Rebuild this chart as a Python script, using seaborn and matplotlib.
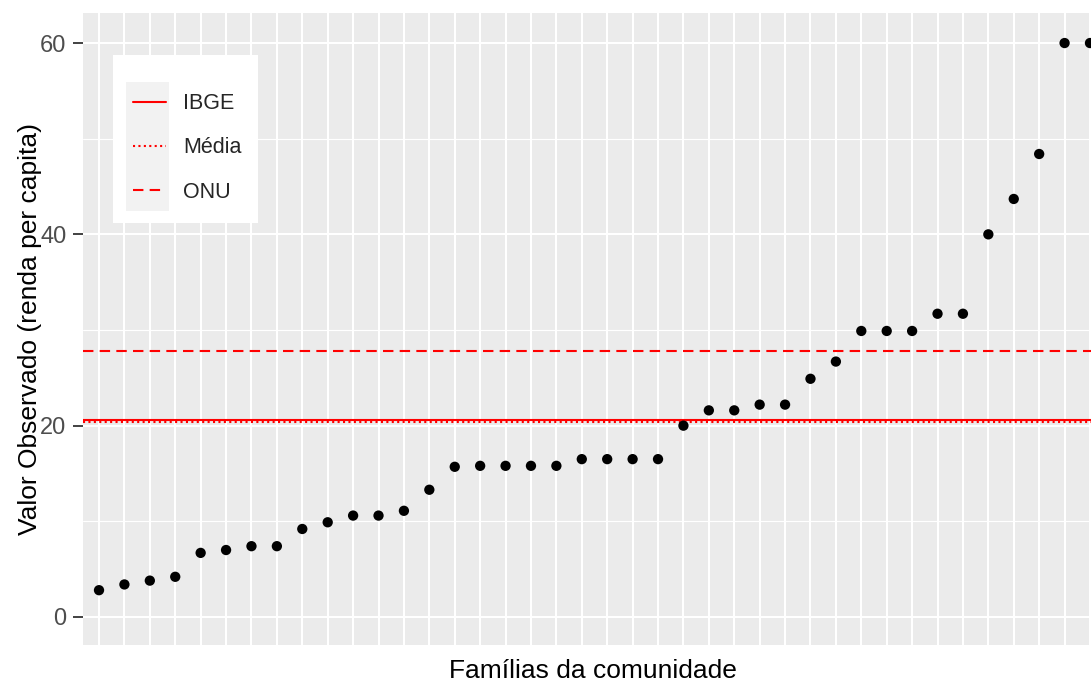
import matplotlib
matplotlib.use("Agg")
import matplotlib.pyplot as plt
import matplotlib.patches as mpatches
import matplotlib.lines as mlines
import numpy as np
import pandas as pd
import seaborn as sns

# renda per capita observada, famílias ordenadas
valores = [2.8, 3.4, 3.8, 4.2, 6.7, 7.0, 7.4, 7.4, 9.2, 9.9,
           10.6, 10.6, 11.1, 13.3, 15.7, 15.8, 15.8, 15.8, 15.8, 16.5,
           16.5, 16.5, 16.5, 20.0, 21.6, 21.6, 22.2, 22.2, 24.9, 26.7,
           29.9, 29.9, 29.9, 31.7, 31.7, 40.0, 43.7, 48.4, 60.0, 60.0]
familias = list(range(len(valores)))

ref_nomes = ["IBGE", "Média", "ONU"]
ref_valores = [20.6, 20.4, 27.8]
ref_estilos = ["-", (0, (1, 1.6)), (0, (5, 3))]

y_ticks = [0, 20, 40, 60]
y_minor = [10, 30, 50]

df = pd.DataFrame({"familia": familias, "valor": valores})

sns.set_theme(style="darkgrid")
plt.rcParams["font.family"] = ["Liberation Sans", "DejaVu Sans"]

W, H = 1091, 684
fig = plt.figure(figsize=(W / 100, H / 100), dpi=100)
ax = fig.add_axes([83 / W, 1 - 645 / H, (W - 83) / W, (645 - 13) / H])
ax.set_facecolor("#EBEBEB")

sns.scatterplot(data=df, x="familia", y="valor", ax=ax, color="black",
                s=55, edgecolor="none", zorder=4)

handles = []
for nome, v, ls in zip(ref_nomes, ref_valores, ref_estilos):
    ax.axhline(v, color="#FF0000", linestyle=ls, linewidth=1.5, zorder=3)
    handles.append(mlines.Line2D([], [], color="#FF0000", linestyle=ls,
                                 linewidth=1.5, label=nome))

ax.set_xlim(-0.63, 39.04)
ax.set_ylim(-2.93, 63.14)
ax.set_xticks(familias)
ax.set_xticklabels([""] * len(familias))
ax.set_yticks(y_ticks)
ax.set_yticks(y_minor, minor=True)
ax.grid(which="major", color="white", linewidth=1.5)
ax.grid(which="minor", axis="y", color="white", linewidth=0.8)
ax.set_axisbelow(True)
for sp in ax.spines.values():
    sp.set_visible(False)
ax.tick_params(axis="x", length=0)
ax.tick_params(axis="y", which="major", length=7, width=1.3, color="#333333",
               labelsize=17, labelcolor="#4D4D4D", pad=5, left=True)
ax.tick_params(axis="y", which="minor", length=0)

ax.set_xlabel("Famílias da comunidade", fontsize=19, color="black")
ax.set_ylabel("Valor Observado (renda per capita)", fontsize=19, color="black")
ax.xaxis.set_label_coords((592.5 - 83) / (W - 83), -0.0215)
ax.yaxis.set_label_coords((42 - 83) / (W - 83), 0.5)

# caixa da legenda no estilo ggplot
fig.patches.append(mpatches.Rectangle((113 / W, 1 - 223 / H), 145 / W, 168 / H,
                                      transform=fig.transFigure, facecolor="white",
                                      edgecolor="none", zorder=1))
fig.patches.append(mpatches.Rectangle((126 / W, 1 - 211 / H), 43 / W, 129 / H,
                                      transform=fig.transFigure, facecolor="#F2F2F2",
                                      edgecolor="none", zorder=2))
leg = fig.legend(handles=handles, loc="upper left",
                 bbox_to_anchor=(127 / W, 1 - 87 / H), frameon=False,
                 fontsize=15.5, handlelength=1.5, handletextpad=0.8,
                 labelspacing=1.07, borderpad=0.3, borderaxespad=0)
leg.set_zorder(5)

fig.savefig("out.png", dpi=100)
